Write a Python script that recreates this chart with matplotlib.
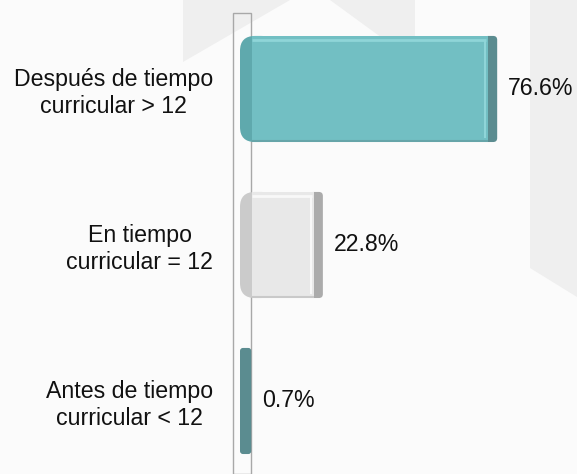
import matplotlib.pyplot as plt
from matplotlib.patches import FancyBboxPatch, Rectangle, Polygon

# data
categories = ["Después de tiempo\ncurricular > 12",
              "En tiempo\ncurricular = 12",
              "Antes de tiempo\ncurricular < 12"]
values = [76.6, 22.8, 0.7]
face_colors = ["#72bfc3", "#e8e8e8", "#5e9397"]
cap_colors = ["#5fa9ad", "#cbcbcb", "#5e9397"]
side_colors = ["#5b8c90", "#ababab", "#5b8c90"]
light_colors = ["#8fd5d8", "#f8f8f8", "#5e9397"]

W, H = 577, 474
plt.rcParams['font.family'] = ['Liberation Sans', 'DejaVu Sans']

fig = plt.figure(figsize=(W / 100, H / 100), dpi=100)
fig.patch.set_facecolor("#fbfbfb")


def px(pts):
    return [(x / W, 1 - y / H) for x, y in pts]


# faint background shapes
for pts in [[(183, 0), (183, 62), (290, 0)],
            [(330, 0), (415, 0), (415, 62)],
            [(530, 0), (577, 0), (577, 297), (530, 268)]]:
    fig.patches.append(Polygon(px(pts), closed=True, transform=fig.transFigure,
                               facecolor="#efefef", edgecolor="none", zorder=-5))

ax = fig.add_axes([233 / W, 0, (W - 233) / W, 461 / H])
ax.set_facecolor("none")

xscale = 3.24          # px per unit
x0 = -7 / xscale
ax.set_xlim(x0, x0 + (W - 233) / xscale)
ys = list(range(len(values)))
ax.set_ylim(2.468, -0.487)
yscale = 156           # px per unit

h = 0.68
depth = 9 / xscale
cap = 12 / xscale
asp = xscale / yscale

# axis wall
ax.add_patch(Rectangle((0, 0), 18 / (W - 233), 1.0, transform=ax.transAxes,
                       facecolor="none", edgecolor="#a8a8a8", lw=1, clip_on=False,
                       zorder=1))

for y, v, fc, cc, sc, lc in zip(ys, values, face_colors, cap_colors, side_colors,
                                light_colors):
    if v > cap:
        # side face
        ax.add_patch(FancyBboxPatch((v - 4 / xscale, y - h / 2), depth + 4 / xscale, h,
                                    boxstyle="round,pad=0,rounding_size=%f" % (4 / xscale),
                                    mutation_aspect=asp, facecolor=sc, edgecolor="none",
                                    zorder=2))
        # rounded left cap
        ax.add_patch(FancyBboxPatch((0, y - h / 2), 3 * cap, h,
                                    boxstyle="round,pad=0,rounding_size=%f" % (15 / xscale),
                                    mutation_aspect=asp, facecolor=cc, edgecolor="none",
                                    zorder=3))
        # front face
        ax.barh(y, v - cap, left=cap, height=h, color=fc, zorder=4)
        ax.plot([cap, v - 2 / xscale], [y - h / 2 + 4 / yscale] * 2, color=lc,
                lw=2, zorder=5, solid_capstyle="butt")
        ax.plot([v - 3 / xscale] * 2, [y - h / 2 + 4 / yscale, y + h / 2 - 4 / yscale],
                color=lc, lw=1.5, zorder=5, solid_capstyle="butt")
        ax.plot([cap, v], [y + h / 2 - 1.5 / yscale] * 2, color=sc, alpha=0.5,
                lw=1.5, zorder=5, solid_capstyle="butt")
    else:
        ax.add_patch(FancyBboxPatch((0, y - h / 2), v + depth, h,
                                    boxstyle="round,pad=0,rounding_size=%f" % (3 / xscale),
                                    mutation_aspect=asp, facecolor=sc, edgecolor="none",
                                    zorder=2))
    ax.annotate(f"{v}%", (v + depth, y), xytext=(8, 0), textcoords="offset points",
                va="center", ha="left", fontsize=16.7, color="#111111")

ax.set_yticks(ys, categories, fontsize=16.7, color="#111111", multialignment="center")
ax.tick_params(axis="y", length=0, pad=14.4)
ax.set_xticks([])
for s in ax.spines.values():
    s.set_visible(False)

fig.savefig("out.png", dpi=100, facecolor=fig.get_facecolor())
